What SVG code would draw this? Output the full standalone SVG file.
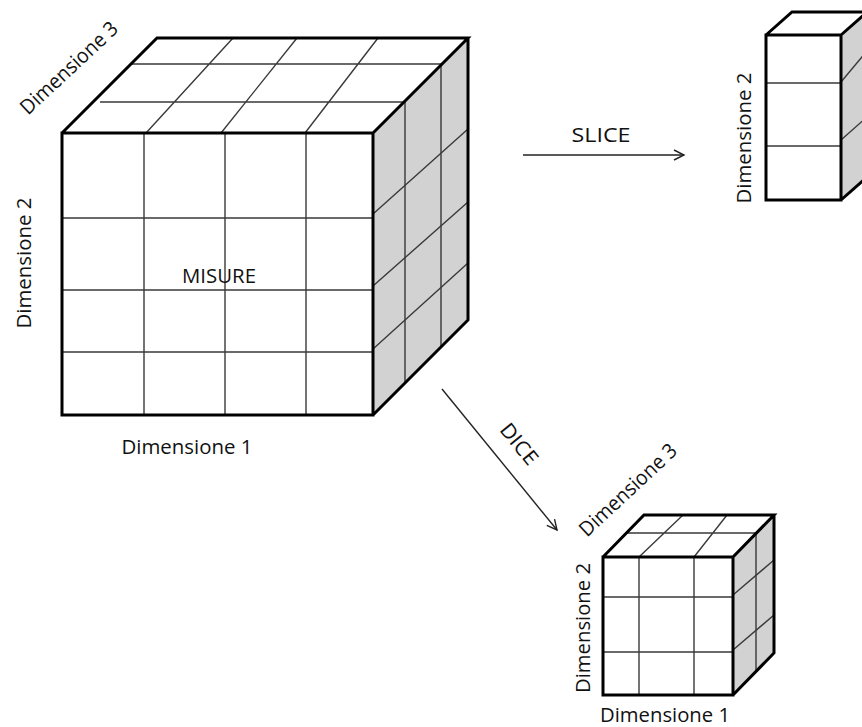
<svg xmlns="http://www.w3.org/2000/svg" width="862" height="727" viewBox="0 0 862 727">
<style>
.face{fill:#ffffff;stroke:none}
.side{fill:#d2d2d2;stroke:none}
.grid{stroke:#3a3a3a;stroke-width:1.4;fill:none}
.grid2{stroke:#5a5a5a;stroke-width:1.8;fill:none}
.edge{stroke:#000;stroke-width:3;fill:none;stroke-linejoin:miter}
.lbl{font-family:"Open Sans","Liberation Sans",sans-serif;font-size:20.5px;fill:#111;text-anchor:middle}
.conn{stroke:#222;stroke-width:1.4;fill:none}
</style>
<defs>
<marker id="arr" markerUnits="userSpaceOnUse" markerWidth="14" markerHeight="14" refX="11" refY="6" orient="auto">
<path d="M1,1 L11,6 L1,11" fill="none" stroke="#222" stroke-width="1.4"/>
</marker>
</defs>
<rect width="862" height="727" fill="#fff"/>

<g id="cube-main">
<polygon class="face" points="62,133 157,38 468,38 373,133"/>
<polygon class="side" points="373,133 468,38 468,320 373,415"/>
<rect class="face" x="62" y="133" width="311" height="282"/>
<path class="grid" d="M144,133V415 M225,133V415 M306,133V415 M62,218H373 M62,290H373 M62,352H373"/>
<path class="grid" d="M131,64H441 M100,102H405 M146,133L233,38 M221,133L297,38 M305,133L378,38"/>
<path class="grid2" d="M405,101V384 M441,65V347"/>
<path class="grid" d="M373,214L468,129 M373,286L468,202 M373,349L468,263"/>
<path class="edge" d="M62,133H373V415H62Z M62,133L157,38H468L373,133 M468,38V320L373,415"/>
<text class="lbl" x="219" y="283" textLength="74" lengthAdjust="spacingAndGlyphs">MISURE</text>
<text class="lbl" x="187" y="454" textLength="131" lengthAdjust="spacingAndGlyphs">Dimensione 1</text>
<text class="lbl" transform="translate(31,263) rotate(-90)" x="0" y="0" textLength="131" lengthAdjust="spacingAndGlyphs">Dimensione 2</text>
<text class="lbl" transform="translate(69,68) rotate(-43)" x="0" y="7" textLength="125" lengthAdjust="spacingAndGlyphs">Dimensione 3</text>
</g>

<g id="cube-slice">
<polygon class="face" points="766,35 792,12 867,12 841,35"/>
<polygon class="side" points="841,35 867,12 867,177 841,200"/>
<rect class="face" x="766" y="35" width="75" height="165"/>
<path class="grid" d="M766,83H841 M766,146H841 M841,82L867,51 M841,140L867,117"/>
<path class="edge" d="M766,35H841V200H766Z M766,35L792,12H867L841,35 M867,12V177L841,200"/>
<text class="lbl" transform="translate(751,138) rotate(-90)" x="0" y="0" textLength="131" lengthAdjust="spacingAndGlyphs">Dimensione 2</text>
</g>

<g id="cube-dice">
<polygon class="face" points="603,557 644,515 774,515 733,557"/>
<polygon class="side" points="733,557 774,515 774,653 733,695"/>
<rect class="face" x="603" y="557" width="130" height="138"/>
<path class="grid" d="M639,557V695 M694,557V695 M603,597H733 M603,652H733"/>
<path class="grid" d="M626,533H756 M639,557L683,515 M694,557L727,515"/>
<path class="grid2" d="M756,534V672"/>
<path class="grid" d="M733,595L774,560 M733,650L774,615"/>
<path class="edge" d="M603,557H733V695H603Z M603,557L644,515H774L733,557 M774,515V653L733,695"/>
<text class="lbl" x="665" y="722" textLength="130" lengthAdjust="spacingAndGlyphs">Dimensione 1</text>
<text class="lbl" transform="translate(590,628) rotate(-90)" x="0" y="0" textLength="130" lengthAdjust="spacingAndGlyphs">Dimensione 2</text>
<text class="lbl" transform="translate(628,490) rotate(-43)" x="0" y="7" textLength="125" lengthAdjust="spacingAndGlyphs">Dimensione 3</text>
</g>

<g id="connectors">
<line class="conn" x1="523" y1="155" x2="684" y2="155" marker-end="url(#arr)"/>
<line class="conn" x1="442" y1="389" x2="557" y2="530" marker-end="url(#arr)"/>
<text class="lbl" x="601" y="142" textLength="59" lengthAdjust="spacingAndGlyphs">SLICE</text>
<text class="lbl" transform="translate(519,444) rotate(50.8)" x="0" y="7" textLength="47" lengthAdjust="spacingAndGlyphs">DICE</text>
</g>
</svg>
